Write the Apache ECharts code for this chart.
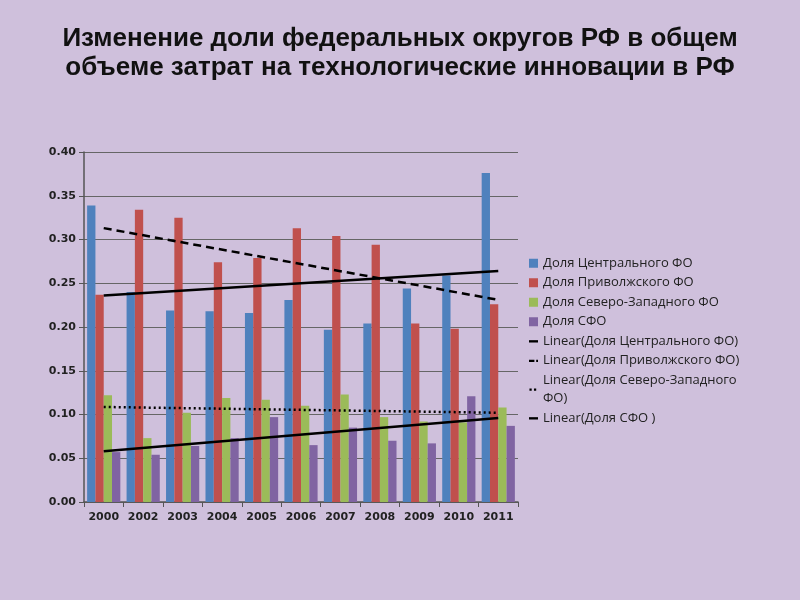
<!DOCTYPE html>
<html><head><meta charset="utf-8">
<script src="https://cdn.jsdelivr.net/npm/echarts@6/dist/echarts.min.js"></script>
<style>html,body{margin:0;padding:0;background:#cfc0dc;}#c{width:800px;height:600px;}</style>
</head><body><div id="c"></div>
<script>
const categories = ['2000','2002','2003','2004','2005','2006','2007','2008','2009','2010','2011'];
const central = [0.339,0.240,0.219,0.218,0.216,0.231,0.197,0.204,0.244,0.259,0.376];
const volga = [0.237,0.334,0.325,0.274,0.279,0.313,0.304,0.294,0.204,0.198,0.226];
const northwest = [0.122,0.073,0.102,0.119,0.117,0.110,0.123,0.097,0.092,0.091,0.108];
const siberia = [0.057,0.054,0.064,0.073,0.097,0.065,0.085,0.070,0.067,0.121,0.087];
// trend line endpoints [first year, last year]
const trendCentral = [0.236,0.264];
const trendVolga = [0.313,0.231];
const trendNW = [0.1086,0.102];
const trendSib = [0.058,0.096];
const yTicks = ['0.00','0.05','0.10','0.15','0.20','0.25','0.30','0.35','0.40'];

function trend(ends){ const d = categories.map(()=>null); d[0]=ends[0]; d[d.length-1]=ends[1]; return d; }
const names = ['Доля Центрального ФО','Доля Приволжского ФО','Доля Северо-Западного ФО','Доля СФО',
 'Linear(Доля Центрального ФО)','Linear(Доля Приволжского ФО)','Linear(Доля Северо-Западного\nФО)','Linear(Доля СФО )'];
const colors = ['#4f81bd','#c0504d','#9bbb59','#8064a2'];
const iconSolid = 'path://M0,0M10,10M0,3.8L10,3.8L10,6.4L0,6.4Z';
const iconDash = 'path://M0,0M10,10M0,3.8L6,3.8L6,6.4L0,6.4Z M8,3.8L10,3.8L10,6.4L8,6.4Z';
const iconDot = 'path://M0,0M10,10M0.5,3.8L3,3.8L3,6.4L0.5,6.4Z M5.5,3.8L8,3.8L8,6.4L5.5,6.4Z';
const bar = (i,data)=>({name:names[i],type:'bar',data:data,barWidth:8.3,barGap:'0%',
  itemStyle:{color:colors[i]}});
const line = (i,ends,type,w)=>({name:names[i],type:'line',data:trend(ends),connectNulls:true,symbol:'none',
  lineStyle:{color:'#000',width:w,type:type},itemStyle:{color:'#000'},z:5});
const chart = echarts.init(document.getElementById('c'));
chart.setOption({
  backgroundColor:'#cfc0dc',
  animation:false,
  title:{text:'Изменение доли федеральных округов РФ в общем\nобъеме затрат на технологические инновации в РФ',
    left:'center',top:19,textStyle:{fontFamily:'Liberation Sans',fontWeight:'bold',fontSize:26,lineHeight:29,color:'#111'}},
  grid:{left:84,top:152,width:434,height:350},
  legend:{orient:'vertical',left:524,top:249,itemWidth:9,itemHeight:9,itemGap:1,
    textStyle:{fontFamily:'Open Sans',fontSize:13,color:'#222',lineHeight:18.5},
    data:[
      {name:names[0],icon:'rect'},{name:names[1],icon:'rect'},{name:names[2],icon:'rect'},{name:names[3],icon:'rect'},
      {name:names[4],icon:iconSolid},{name:names[5],icon:iconDash},{name:names[6],icon:iconDot},{name:names[7],icon:iconSolid}]},
  xAxis:{type:'category',data:categories,
    axisLine:{lineStyle:{color:'#555',width:1.5}},
    axisTick:{show:true,lineStyle:{color:'#555'},length:5,interval:0},
    axisLabel:{interval:0,fontFamily:'DejaVu Sans',fontWeight:'bold',fontSize:11,color:'#222',margin:10}},
  yAxis:{type:'value',min:0,max:0.4,interval:0.05,
    axisLine:{show:true,lineStyle:{color:'#555',width:1.5}},
    axisTick:{show:true,lineStyle:{color:'#555'},length:5},
    splitLine:{lineStyle:{color:'#666',width:1.2}},
    axisLabel:{fontFamily:'DejaVu Sans',fontWeight:'bold',fontSize:11,color:'#222',margin:8,
      formatter:(v)=>yTicks[Math.round(v/0.05)]}},
  series:[bar(0,central),bar(1,volga),bar(2,northwest),bar(3,siberia),
    line(4,trendCentral,'solid',2.5),line(5,trendVolga,[8,5],2.5),line(6,trendNW,[2,3],2.5),line(7,trendSib,'solid',2.5)]
});
</script></body></html>
